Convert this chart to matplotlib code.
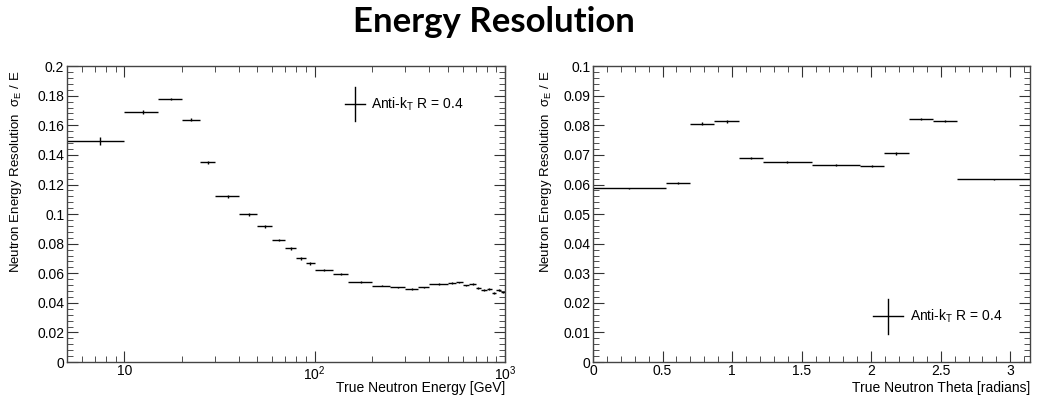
import numpy as np
import matplotlib
matplotlib.use('Agg')
import matplotlib.pyplot as plt
from matplotlib.ticker import MultipleLocator, LogLocator, NullFormatter

plt.rcParams['font.family'] = ['Liberation Sans', 'DejaVu Sans']
plt.rcParams['mathtext.fontset'] = 'custom'
plt.rcParams['mathtext.rm'] = 'Liberation Sans'
plt.rcParams['mathtext.it'] = 'Liberation Sans:italic'

# Left panel: resolution vs true neutron energy (bin edges in GeV)
energy_edges = [5, 10, 15, 20, 25, 30, 40, 50, 60, 70, 80, 90, 100, 125, 150, 200,
                250, 300, 350, 400, 500, 550, 600, 650, 700, 750, 800, 850, 900, 950, 1000]
energy_res = [0.1493, 0.169, 0.1778, 0.1637, 0.135, 0.112, 0.0998, 0.0917, 0.0824,
              0.0768, 0.0700, 0.0667, 0.0624, 0.0597, 0.0540, 0.0516, 0.0505, 0.0495,
              0.0505, 0.0527, 0.0532, 0.0538, 0.0518, 0.0527, 0.0498, 0.0486, 0.0493,
              0.0468, 0.0486, 0.0470]
energy_err = [0.0025, 0.0012, 0.0010, 0.0010, 0.0010, 0.0009, 0.0008, 0.0008, 0.0008,
              0.0008, 0.0008, 0.0008, 0.0006, 0.0006, 0.0005, 0.0005, 0.0005, 0.0005,
              0.0005, 0.0005, 0.0006, 0.0006, 0.0006, 0.0006, 0.0006, 0.0006, 0.0006,
              0.0006, 0.0006, 0.0006]

# Right panel: resolution vs true neutron theta (bin edges in degrees)
theta_edges_deg = [0, 30, 40, 50, 60, 70, 90, 110, 120, 130, 140, 150, 180]
theta_res = [0.0587, 0.0604, 0.0806, 0.0813, 0.0689, 0.0675, 0.0667, 0.0662,
             0.0705, 0.0821, 0.0814, 0.0617]
theta_err = [0.0002, 0.0003, 0.0004, 0.0004, 0.0004, 0.0003, 0.0003, 0.0003,
             0.0004, 0.0004, 0.0004, 0.0002]

legend_label = 'Anti-k$_\\mathregular{T}$ R = 0.4'
ylabel = 'Neutron Energy Resolution  σ$_\\mathregular{E}$ / E'


def draw_hist(ax, edges, vals, errs):
    edges = np.asarray(edges, dtype=float)
    centers = 0.5 * (edges[:-1] + edges[1:])
    xlo = centers - edges[:-1]
    xhi = edges[1:] - centers
    ax.errorbar(centers, vals, xerr=[xlo, xhi], yerr=errs, fmt='none',
                ecolor='black', elinewidth=1, capsize=0)


def root_style(ax):
    ax.tick_params(which='both', direction='in', top=True, right=True,
                   labelsize=10, color='#333333')
    ax.tick_params(axis='x', pad=1.5)
    ax.tick_params(axis='y', pad=2)
    ax.tick_params(which='major', length=8)
    ax.tick_params(which='minor', length=4)
    for s in ax.spines.values():
        s.set_color('#444444')
        s.set_linewidth(1)


def draw_legend(ax, x, y, hw, hh, tx):
    ax.plot([x - hw, x + hw], [y, y], color='black', lw=1, transform=ax.transAxes)
    ax.plot([x, x], [y - hh, y + hh], color='black', lw=1, transform=ax.transAxes)
    ax.text(tx, y, legend_label, transform=ax.transAxes, fontsize=10,
            va='center', ha='left')


fig = plt.figure(figsize=(10.4, 3.95), dpi=100)
fig.text(0.475, 0.945, 'Energy Resolution', ha='center', va='center',
         fontsize=25, fontweight='bold', family=['Lato', 'DejaVu Sans'])

ax1 = fig.add_axes([0.0644, 0.0835, 0.4212, 0.749])
draw_hist(ax1, energy_edges, energy_res, energy_err)
ax1.set_xscale('log')
ax1.set_xlim(5, 1000)
ax1.set_ylim(0, 0.2)
ax1.set_xticks([10, 100, 1000])
ax1.set_xticklabels(['10', '10$^\\mathregular{2}$', '10$^\\mathregular{3}$'])
ax1.xaxis.set_minor_locator(LogLocator(base=10, subs=np.arange(2, 10)))
ax1.xaxis.set_minor_formatter(NullFormatter())
ax1.yaxis.set_minor_locator(MultipleLocator(0.004))
ax1.set_yticks(np.arange(0, 0.201, 0.02))
ax1.set_yticklabels(['0', '0.02', '0.04', '0.06', '0.08', '0.1', '0.12', '0.14',
                     '0.16', '0.18', '0.2'])
root_style(ax1)
ax1.set_xlabel('True Neutron Energy [GeV]', fontsize=10, loc='right')
ax1.xaxis.set_label_coords(1.0, -0.064)
ax1.set_ylabel(ylabel, fontsize=9.5, loc='top')
ax1.yaxis.set_label_coords(-0.098, 0.985)
draw_legend(ax1, 0.658, 0.872, 0.023, 0.057, 0.694)

ax2 = fig.add_axes([0.5702, 0.0835, 0.4202, 0.749])
draw_hist(ax2, np.deg2rad(theta_edges_deg), theta_res, theta_err)
ax2.set_xlim(0, np.pi)
ax2.set_ylim(0, 0.1)
ax2.xaxis.set_minor_locator(MultipleLocator(0.1))
ax2.set_xticks(np.arange(0, 3.01, 0.5))
ax2.set_xticklabels(['0', '0.5', '1', '1.5', '2', '2.5', '3'])
ax2.yaxis.set_minor_locator(MultipleLocator(0.002))
ax2.set_yticks(np.arange(0, 0.101, 0.01))
ax2.set_yticklabels(['0', '0.01', '0.02', '0.03', '0.04', '0.05', '0.06', '0.07',
                     '0.08', '0.09', '0.1'])
root_style(ax2)
ax2.set_xlabel('True Neutron Theta [radians]', fontsize=10, loc='right')
ax2.xaxis.set_label_coords(1.0, -0.064)
ax2.set_ylabel(ylabel, fontsize=9.5, loc='top')
ax2.yaxis.set_label_coords(-0.089, 0.985)
draw_legend(ax2, 0.675, 0.154, 0.034, 0.059, 0.725)

fig.savefig('out.png', dpi=100)
